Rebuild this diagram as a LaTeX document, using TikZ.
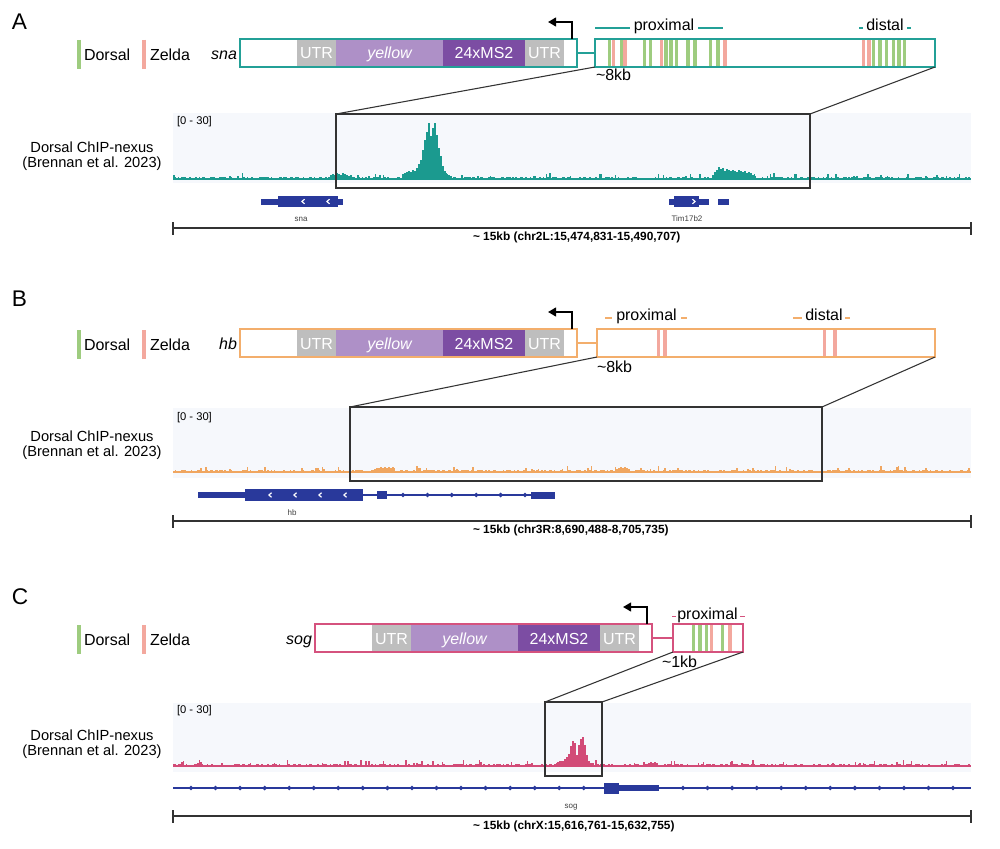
\documentclass[tikz,border=0pt]{standalone}
\usepackage{fontspec}
\setmainfont{Liberation Sans}
\usetikzlibrary{arrows.meta}
\definecolor{cA}{HTML}{23A097}
\definecolor{tA}{HTML}{1B9A8F}
\definecolor{cB}{HTML}{F3AE6C}
\definecolor{tB}{HTML}{F0A660}
\definecolor{cC}{HTML}{D5527E}
\definecolor{tC}{HTML}{D24B77}
\definecolor{dgreen}{HTML}{9ECC7F}
\definecolor{zpink}{HTML}{F3A89E}
\definecolor{utr}{HTML}{BEBEBE}
\definecolor{ylw}{HTML}{AE90C7}
\definecolor{ms}{HTML}{7C4DA3}
\definecolor{gblue}{HTML}{29399B}
\definecolor{trkbg}{HTML}{F6F8FC}
\definecolor{zl}{HTML}{333333}

\tikzset{
  basic/.style={inner sep=0pt, outer sep=0pt},
  lbl/.style={basic, font=\fontsize{12}{14}\selectfont},
  plab/.style={basic, font=\fontsize{17}{19}\selectfont, anchor=west},
  seg/.style={basic, font=\fontsize{12}{14}\selectfont, text=white, anchor=base},
  chip/.style={basic, font=\fontsize{11}{11.3}\selectfont, align=center},
  rng/.style={basic, font=\fontsize{8.4}{10}\selectfont, anchor=west},
  gname/.style={basic, font=\fontsize{6}{7}\selectfont, text=black!75},
  scl/.style={basic, font=\fontsize{8.9}{10}\selectfont\bfseries, anchor=west},
  zoomline/.style={draw=zl, line width=0.8pt},
  tss/.style={line width=1.6pt, -{Triangle[length=6pt,width=6.5pt]}},
  legbar/.style={line width=2.5pt},
  stripe/.style={line width=2.6pt},
  sbar/.style={line width=0.8pt, draw=zl},
  dashln/.style={line width=1.3pt},
  outline/.style={line width=1.4pt},
}

\newcommand{\legendrow}[1]{%
  \draw[legbar, dgreen] (79,1) -- (79,30);
  \node[lbl, anchor=base west] (#1dor) at (84,21.5) {Dorsal};
  \draw[legbar, zpink] (144,1) -- (144,30);
  \node[lbl, anchor=base west] (#1zel) at (150,21.5) {Zelda};
}

\newcommand{\msconstruct}[3]{%
  \fill[utr] (297,0) rectangle (336,28);
  \fill[ylw] (336,0) rectangle (443,28);
  \fill[ms] (443,0) rectangle (525,28);
  \fill[utr] (525,0) rectangle (564,28);
  \node[seg] (#3u1) at (316.5,20) {UTR};
  \node[seg] (#3y) at (389.5,20) {\itshape yellow};
  \node[seg] (#3ms) at (484,20) {24xMS2};
  \node[seg] (#3u2) at (544.5,20) {UTR};
  \draw[#1, outline] (240,0) rectangle (577,28);
  \node[lbl, anchor=base east] (#3gene) at (237,20.5) {\itshape #2};
  \coordinate (#3cR) at (577,14);
  \coordinate (#3tss) at (572,0);
  \coordinate (#3tssE) at (548,-17);
  \draw[tss] (#3tss) |- (#3tssE);
}

\newcommand{\noisetrack}[4]{%
  \pgfmathsetseed{#3}%
  \fill[#2] (173,{#1-2.2}) rectangle (971,#1);
  \foreach \x in {173,174.6,...,969.5} {%
    \pgfmathsetmacro\hh{2.0+0.9*rnd+(rnd>#4)*(1+3.5*rnd)}%
    \fill[#2] (\x,#1) rectangle ({\x+1.6},{#1-\hh});
  }%
}

\newcommand{\peaks}[3]{%
  \foreach \x/\h in {#3} {\fill[#2] (\x,#1) rectangle ({\x+2.1},{#1-\h});}%
}

\newcommand{\chevL}[2]{\draw[white, line width=0.9pt] ({#1+1.5},{#2-2.3}) -- ({#1-1},#2) -- ({#1+1.5},{#2+2.3});}
\newcommand{\chevR}[2]{\draw[white, line width=0.9pt] ({#1-1.5},{#2-2.3}) -- ({#1+1},#2) -- ({#1-1.5},{#2+2.3});}
\newcommand{\dmd}[2]{\fill[gblue] ({#1-2.4},#2) -- (#1,{#2-2.4}) -- ({#1+2.4},#2) -- (#1,{#2+2.4}) -- cycle;}

\begin{document}
\begin{tikzpicture}[x=0.75pt,y=-0.75pt]
\useasboundingbox (0,0) rectangle (1000,849);
\fill[white] (0,0) rectangle (1000,849);

%%%%%%%%%%%%%%%% PANEL A
\node[plab] (labA) at (12,21.5) {A};
\begin{scope}[shift={(0,39)}]
  \legendrow{A}
  \msconstruct{cA}{sna}{A}
  \foreach \x in {609.5,621.5,644.5,650.5,666,671,676.5,688,695,710.5,718,873.5,880,886.5,893.5,899,904.5}
    \draw[stripe,dgreen] (\x,0.8) -- (\x,27.2);
  \foreach \x in {613.5,625,661.5,725,863.5,869}
    \draw[stripe,zpink] (\x,0.8) -- (\x,27.2);
  \draw[cA, outline] (595,0) rectangle (935,28);
  \coordinate (AeL) at (595,14);
  \coordinate (AeBL) at (595,28);
  \coordinate (AeBR) at (935,28);
  \draw[cA, outline] (AcR) -- (AeL);
  \draw[cA, dashln] (595,-11) -- (630,-11);
  \node[lbl, anchor=base] (Aprox) at (664,-8.5) {proximal};
  \draw[cA, dashln] (698,-11) -- (723,-11);
  \draw[cA, dashln] (859,-11) -- (863,-11);
  \node[lbl, anchor=base] (Adist) at (885,-8.5) {distal};
  \draw[cA, dashln] (907,-11) -- (911,-11);
  \node[lbl, anchor=base west] (Akb) at (596,42) {\textasciitilde8kb};
\end{scope}

% track A
\fill[trkbg] (173,113) rectangle (971,183);
\node[rng] (Arng) at (177,122) {[0 - 30]};
\node[chip] (Achip) at (92,156.5) {Dorsal ChIP-nexus\\(Brennan et al. 2023)};
\noisetrack{180}{tA}{11}{0.86}
\peaks{180}{tA}{330/5,332/6,334/5,336/7,338/6,340/5,342/7,344/6,346/5,348/4,350/5}
\peaks{180}{tA}{402/6,404/7,406/8,408/9,410/8,412/10,414/9,416/12,418/16,420/20,422/30,424/40,426/48,428/57,430/44,432/52,434/57,436/45,438/32,440/24,442/14,444/9,446/6,448/5,450/4}
\peaks{180}{tA}{712/5,714/8,716/10,718/13,720/11,722/12,724/9,726/11,728/10,730/9,732/10,734/9,736/8,738/10,740/9,742/8,744/9,746/7,748/8,750/7,752/5,754/4}
\draw[zoomline] (336,114) rectangle (810,188);
\coordinate (AzTL) at (336,114);
\coordinate (AzTR) at (810,114);
\draw[zoomline] (AeBL) -- (AzTL);
\draw[zoomline] (AeBR) -- (AzTR);
% genes A
\fill[gblue] (261,198.5) rectangle (343,204.5);
\fill[gblue] (278,196) rectangle (338,207);
\chevL{303}{201.5}
\chevL{328}{201.5}
\node[gname] (Asna) at (301,219) {sna};
\fill[gblue] (669,198.5) rectangle (709,204.5);
\fill[gblue] (674,196) rectangle (699,207);
\chevR{694}{201.5}
\fill[gblue] (718,199) rectangle (729,204.5);
\node[gname] (Atim) at (687,219) {Tim17b2};
% scale A
\draw[sbar] (173,228) -- (971,228);
\draw[sbar] (173,222) -- (173,235);
\draw[sbar] (971,222) -- (971,235);
\node[scl] (Ascl) at (473,237.5) {\textasciitilde\ 15kb (chr2L:15,474,831-15,490,707)};

%%%%%%%%%%%%%%%% PANEL B
\node[plab] (labB) at (12,299) {B};
\begin{scope}[shift={(0,329)}]
  \legendrow{B}
  \msconstruct{cB}{hb}{B}
  \foreach \x in {658.5,665,824.5,835}
    \draw[stripe,zpink] (\x,0.8) -- (\x,27.2);
  \draw[cB, outline] (597,0) rectangle (935,28);
  \coordinate (BeL) at (597,14);
  \coordinate (BeBL) at (597,28);
  \coordinate (BeBR) at (935,28);
  \draw[cB, outline] (BcR) -- (BeL);
  \draw[cB, dashln] (605,-11) -- (612,-11);
  \node[lbl, anchor=base] (Bprox) at (646.5,-8.5) {proximal};
  \draw[cB, dashln] (681,-11) -- (687,-11);
  \draw[cB, dashln] (793,-11) -- (802,-11);
  \node[lbl, anchor=base] (Bdist) at (824,-8.5) {distal};
  \draw[cB, dashln] (845,-11) -- (850,-11);
  \node[lbl, anchor=base west] (Bkb) at (597,43) {\textasciitilde8kb};
\end{scope}

% track B
\fill[trkbg] (173,408) rectangle (971,478);
\node[rng] (Brng) at (177,418) {[0 - 30]};
\node[chip] (Bchip) at (92,445.5) {Dorsal ChIP-nexus\\(Brennan et al. 2023)};
\noisetrack{473}{tB}{23}{0.9}
\peaks{473}{tB}{374/4,376/5,378/5,380/6,382/5,384/6,386/5,388/6,390/5,392/4}
\peaks{473}{tB}{616/4,618/5,620/6,622/5,624/6,626/5,628/4}
\draw[zoomline] (350,407) rectangle (822,481);
\coordinate (BzTL) at (350,407);
\coordinate (BzTR) at (822,407);
\draw[zoomline] (BeBL) -- (BzTL);
\draw[zoomline] (BeBR) -- (BzTR);
% gene hb
\draw[gblue, line width=0.9pt] (363,495) -- (531,495);
\fill[gblue] (198,492) rectangle (245,498);
\fill[gblue] (245,489) rectangle (363,501);
\chevL{270}{495}
\chevL{295}{495}
\chevL{320}{495}
\chevL{345}{495}
\fill[gblue] (377,491) rectangle (387,499);
\foreach \k in {0,...,5} {\pgfmathsetmacro\xx{403+24.4*\k}\dmd{\xx}{495}}
\fill[gblue] (531,491.5) rectangle (555,498.5);
\node[gname] (Bhb) at (292,513) {hb};
% scale B
\draw[sbar] (173,521) -- (971,521);
\draw[sbar] (173,515) -- (173,528);
\draw[sbar] (971,515) -- (971,528);
\node[scl] (Bscl) at (473,530) {\textasciitilde\ 15kb (chr3R:8,690,488-8,705,735)};

%%%%%%%%%%%%%%%% PANEL C
\node[plab] (labC) at (12,597) {C};
\begin{scope}[shift={(0,624)}]
  \legendrow{C}
\end{scope}
\begin{scope}[shift={(75,624)}]
  \msconstruct{cC}{sog}{C}
  \foreach \x in {618.3,625,631.7,647.3}
    \draw[stripe,dgreen] (\x,0.8) -- (\x,27.2);
  \foreach \x in {636.3,655}
    \draw[stripe,zpink] (\x,0.8) -- (\x,27.2);
  \draw[cC, outline] (598,0) rectangle (668,28);
  \coordinate (CeL) at (598,14);
  \coordinate (CeBL) at (598,28);
  \coordinate (CeBR) at (668,28);
  \draw[cC, outline] (CcR) -- (CeL);
  \draw[cC, dashln] (597,-7.5) -- (601,-7.5);
  \node[lbl, anchor=base] (Cprox) at (632.5,-5) {proximal};
  \draw[cC, dashln] (665,-7.5) -- (670,-7.5);
  \node[lbl, anchor=base west] (Ckb) at (587,43) {\textasciitilde1kb};
\end{scope}

% track C
\fill[trkbg] (173,703) rectangle (971,772);
\node[rng] (Crng) at (177,711) {[0 - 30]};
\node[chip] (Cchip) at (92,744) {Dorsal ChIP-nexus\\(Brennan et al. 2023)};
\noisetrack{767}{tC}{37}{0.88}
\peaks{767}{tC}{554/3,556/4,558/5,560/6,562/6,564/8,566/10,568/13,570/21,572/26,574/24,576/12,578/22,580/28,582/30,584/22,586/12,588/6,590/4}
\peaks{767}{tC}{648/4,650/5,652/4,654/5,656/4}
\draw[zoomline] (545,702) rectangle (602,776);
\coordinate (CzTL) at (545,702);
\coordinate (CzTR) at (602,702);
\draw[zoomline] (CeBL) -- (CzTL);
\draw[zoomline] (CeBR) -- (CzTR);
% gene sog
\draw[gblue, line width=1.3pt] (173,788) -- (971,788);
\foreach \k in {0,...,16} {\pgfmathsetmacro\xx{191+24.55*\k}\dmd{\xx}{788}}
\foreach \k in {0,...,11} {\pgfmathsetmacro\xx{683+24.55*\k}\dmd{\xx}{788}}
\fill[gblue] (604,783) rectangle (619,794);
\fill[gblue] (619,785) rectangle (659,791);
\node[gname] (Csog) at (571,807) {sog};
% scale C
\draw[sbar] (173,816) -- (971,816);
\draw[sbar] (173,810) -- (173,823);
\draw[sbar] (971,810) -- (971,823);
\node[scl] (Cscl) at (473,826) {\textasciitilde\ 15kb (chrX:15,616,761-15,632,755)};
\end{tikzpicture}
\end{document}
